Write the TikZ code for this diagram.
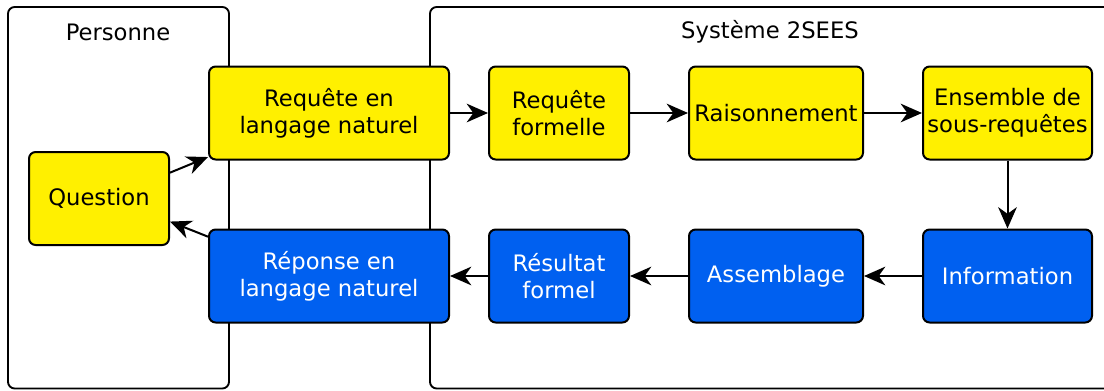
\documentclass[tikz,border=0pt]{standalone}
\usepackage{fontspec}
\setmainfont{DejaVu Sans}
\usetikzlibrary{arrows.meta,positioning}
\definecolor{boxyellow}{RGB}{255,240,0}
\definecolor{boxblue}{RGB}{0,96,240}
\tikzset{
    procbox/.style={draw, line width=1.5pt, rounded corners=5pt, align=center, font=\fontsize{17}{20.3}\selectfont, minimum height=69.75pt, inner sep=2pt},
    querynode/.style={procbox, fill=boxyellow, text=black},
    answernode/.style={procbox, fill=boxblue, text=white},
    framebox/.style={draw, line width=1.4pt, rounded corners=5pt},
    framelabel/.style={font=\fontsize{17}{20.3}\selectfont},
    flowarrow/.style={-{Stealth[length=16pt, width=14pt, inset=5pt]}, line width=1.5pt}
}
\begin{document}
\begin{tikzpicture}[x=0.75pt, y=-0.75pt, node distance=51pt and 28.5pt]
        \useasboundingbox (0,0) rectangle (1104,390);
        % frames
        \draw[framebox] (8,7) rectangle (229,388.5);
        \draw[framebox] (1110,7) -- (430,7) -- (430,388.5) -- (1110,388.5);
        \node[framelabel] (personlabel) at (118,32) {Personne};
        \node[framelabel] (systemlabel) at (770,32) {Système 2SEES};
        % person side
        \node[querynode, minimum width=105pt] (question) at (99,198.5) {Question};
        % top row
        \node[querynode, minimum width=180pt] (reqnl) at (329,113) {Requête en\\langage naturel};
        \node[querynode, minimum width=105pt, right=28.5pt of reqnl] (reqformal) {Requête\\formelle};
        \node[querynode, minimum width=130.5pt, right=43.5pt of reqformal] (reasoning) {Raisonnement};
        \node[querynode, minimum width=126.75pt, right=43.5pt of reasoning] (subqueries) {Ensemble de\\sous-requêtes};
        % bottom row
        \node[answernode, minimum width=180pt, below=of reqnl] (ansnl) {Réponse en\\langage naturel};
        \node[answernode, minimum width=105pt, below=of reqformal] (resformal) {Résultat\\formel};
        \node[answernode, minimum width=130.5pt, below=of reasoning] (assembly) {Assemblage};
        \node[answernode, minimum width=126.75pt, below=of subqueries] (information) {Information};
        % flow
        \draw[flowarrow] (question.20) -- (reqnl.200);
        \draw[flowarrow] (reqnl.east) -- (reqformal.west);
        \draw[flowarrow] (reqformal.east) -- (reasoning.west);
        \draw[flowarrow] (reasoning.east) -- (subqueries.west);
        \draw[flowarrow] (subqueries.south) -- (information.north);
        \draw[flowarrow] (information.west) -- (assembly.east);
        \draw[flowarrow] (assembly.west) -- (resformal.east);
        \draw[flowarrow] (resformal.west) -- (ansnl.east);
        \draw[flowarrow] (ansnl.162) -- (question.-18);
    \end{tikzpicture}
\end{document}
